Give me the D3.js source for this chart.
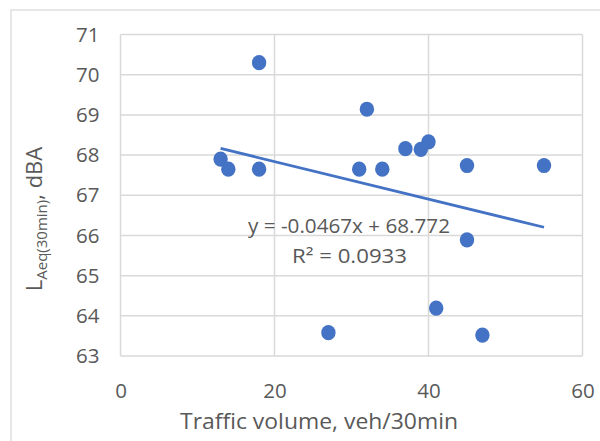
<!DOCTYPE html>
<html><head><meta charset="utf-8">
<script src="https://cdn.jsdelivr.net/npm/d3@7"></script>
<style>body{margin:0;background:#fff}svg{display:block}</style>
</head><body>
<svg id="c" width="600" height="441"></svg>
<script>
const trafficVolume = [13, 14, 18, 18, 27, 31, 32, 34, 37, 39, 40, 41, 45, 45, 47, 55];
const laeq = [67.9, 67.65, 70.3, 67.65, 63.58, 67.65, 69.14, 67.65, 68.16, 68.14, 68.33, 64.19, 67.74, 65.89, 63.52, 67.74];
const xTicks = [0, 20, 40, 60];
const yTicks = [63, 64, 65, 66, 67, 68, 69, 70, 71];
const trendSlope = -0.0467;
const trendIntercept = 68.772;
const rSquared = "0.0933";

const svg = d3.select("#c");
const font = "'Open Sans', sans-serif";
const grey = "#595959";
const blue = "#4472C4";

svg.append("rect").attr("x", 11).attr("y", 10).attr("width", 620).attr("height", 460)
  .attr("fill", "none").attr("stroke", "#d0d0d0").attr("stroke-width", 1);

const x = d3.scaleLinear().domain([0, 60]).range([120.5, 582.5]);
const y = d3.scaleLinear().domain([63, 71]).range([356, 34.5]);

const g = svg.append("g");
g.selectAll(".hg").data(yTicks).join("line")
  .attr("x1", x(0)).attr("x2", x(60)).attr("y1", d => y(d)).attr("y2", d => y(d))
  .attr("stroke", "#d9d9d9").attr("stroke-width", 1.5);
g.selectAll(".vg").data(xTicks).join("line")
  .attr("y1", y(63)).attr("y2", y(71)).attr("x1", d => x(d)).attr("x2", d => x(d))
  .attr("stroke", "#d9d9d9").attr("stroke-width", 1.5);

const yAxis = d3.axisLeft(y).tickValues(yTicks).tickSize(0).tickPadding(21);
const ya = svg.append("g").attr("transform", `translate(${x(0)},0)`).call(yAxis);
ya.select(".domain").remove();
ya.selectAll("text").attr("font-family", font).attr("font-size", 20.5).attr("fill", grey);

const xAxis = d3.axisBottom(x).tickValues(xTicks).tickSize(0).tickPadding(27);
const xa = svg.append("g").attr("transform", `translate(0,${y(63)})`).call(xAxis);
xa.select(".domain").remove();
xa.selectAll("text").attr("font-family", font).attr("font-size", 20.5).attr("fill", grey);

const xmin = d3.min(trafficVolume), xmax = d3.max(trafficVolume);
svg.append("line")
  .attr("x1", x(xmin)).attr("y1", y(trendSlope * xmin + trendIntercept))
  .attr("x2", x(xmax)).attr("y2", y(trendSlope * xmax + trendIntercept))
  .attr("stroke", blue).attr("stroke-width", 2.8);

svg.selectAll(".pt").data(trafficVolume).join("ellipse")
  .attr("cx", d => x(d)).attr("cy", (d, i) => y(laeq[i]))
  .attr("rx", 7.2).attr("ry", 7.6).attr("fill", blue);

svg.append("text").attr("x", 349).attr("y", 233).attr("text-anchor", "middle")
  .attr("font-family", font).attr("font-size", 19.5).attr("fill", grey)
  .attr("textLength", 202).attr("lengthAdjust", "spacingAndGlyphs")
  .text("y = -0.0467x + 68.772");
svg.append("text").attr("x", 349.5).attr("y", 263).attr("text-anchor", "middle")
  .attr("font-family", font).attr("font-size", 19.5).attr("fill", grey)
  .attr("textLength", 115).attr("lengthAdjust", "spacingAndGlyphs")
  .text("R² = " + rSquared);

svg.append("text").attr("x", 319).attr("y", 429).attr("text-anchor", "middle")
  .attr("font-family", font).attr("font-size", 22).attr("fill", grey)
  .attr("textLength", 278).attr("lengthAdjust", "spacingAndGlyphs")
  .text("Traffic volume, veh/30min");

const yt = svg.append("text").attr("transform", "translate(42,219) rotate(-90)")
  .attr("text-anchor", "middle").attr("font-family", font).attr("fill", grey).attr("font-size", 22);
yt.append("tspan").text("L");
yt.append("tspan").attr("font-size", 15).attr("dy", 5).text("Aeq(30min)");
yt.append("tspan").attr("dy", -5).text(", dBA");
</script>
</body></html>
